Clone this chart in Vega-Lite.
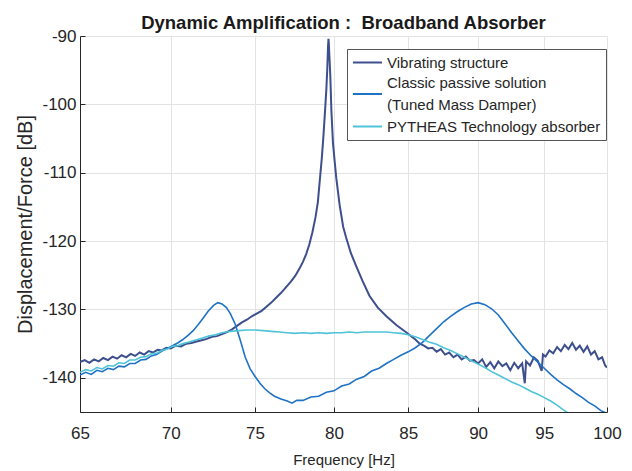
{
  "$schema": "https://vega.github.io/schema/vega-lite/v6.json",
  "autosize": "none",
  "width": 527,
  "height": 376,
  "padding": {"left": 80, "top": 36, "right": 25, "bottom": 59},
  "background": "white",
  "config": {"font": "Liberation Sans", "view": {"stroke": null}},
  "title": {"text": "Dynamic Amplification :\u00a0 Broadband Absorber", "fontSize": 18.5, "fontWeight": "bold", "color": "#1a1a1a", "frame": "group", "anchor": "middle", "offset": -5},
  "datasets": {
    "vib": [
      {"f":65.0,"v":-137.7},{"f":65.25,"v":-137.4},{"f":65.5,"v":-137.8},{"f":65.75,"v":-137.3},{"f":66.0,"v":-137.6},{"f":66.25,"v":-137.1},{"f":66.5,"v":-137.4},{"f":66.75,"v":-136.9},{"f":67.0,"v":-137.2},{"f":67.25,"v":-136.7},{"f":67.5,"v":-137.0},{"f":67.75,"v":-136.5},{"f":68.0,"v":-136.8},{"f":68.25,"v":-136.3},{"f":68.5,"v":-136.6},{"f":68.75,"v":-136.1},{"f":69.0,"v":-136.3},{"f":69.25,"v":-135.9},{"f":69.5,"v":-136.0},{"f":69.75,"v":-135.6},{"f":70.0,"v":-135.7},{"f":70.3,"v":-135.3},{"f":70.6,"v":-135.4},{"f":70.9,"v":-135.0},{"f":71.2,"v":-134.9},{"f":71.5,"v":-134.7},{"f":71.8,"v":-134.5},{"f":72.1,"v":-134.3},{"f":72.4,"v":-134.0},{"f":72.7,"v":-133.9},{"f":73.0,"v":-133.6},{"f":73.3,"v":-133.3},{"f":73.6,"v":-132.9},{"f":73.9,"v":-132.4},{"f":74.2,"v":-131.9},{"f":74.5,"v":-131.5},{"f":74.8,"v":-131.0},{"f":75.1,"v":-130.6},{"f":75.4,"v":-130.2},{"f":75.7,"v":-129.6},{"f":76.0,"v":-129.0},{"f":76.3,"v":-128.3},{"f":76.6,"v":-127.6},{"f":76.9,"v":-126.8},{"f":77.2,"v":-126.0},{"f":77.5,"v":-125.1},{"f":77.8,"v":-123.9},{"f":78.0,"v":-123.0},{"f":78.2,"v":-121.9},{"f":78.4,"v":-120.5},{"f":78.6,"v":-118.7},{"f":78.8,"v":-116.5},{"f":78.95,"v":-114.3},{"f":79.1,"v":-110.5},{"f":79.2,"v":-108.0},{"f":79.3,"v":-105.0},{"f":79.4,"v":-101.5},{"f":79.5,"v":-97.8},{"f":79.56,"v":-94.8},{"f":79.61,"v":-91.5},{"f":79.64,"v":-90.4},{"f":79.66,"v":-91.0},{"f":79.7,"v":-93.0},{"f":79.76,"v":-96.0},{"f":79.83,"v":-101.0},{"f":79.93,"v":-105.6},{"f":80.05,"v":-108.5},{"f":80.15,"v":-110.8},{"f":80.36,"v":-114.6},{"f":80.6,"v":-117.9},{"f":80.8,"v":-119.5},{"f":81.1,"v":-121.7},{"f":81.47,"v":-123.7},{"f":81.9,"v":-125.9},{"f":82.35,"v":-128.0},{"f":82.9,"v":-129.7},{"f":83.5,"v":-131.0},{"f":84.2,"v":-132.3},{"f":84.9,"v":-133.4},{"f":85.5,"v":-134.4},{"f":85.8,"v":-135.0},{"f":86.1,"v":-135.3},{"f":86.4,"v":-135.7},{"f":86.7,"v":-135.6},{"f":87.0,"v":-136.2},{"f":87.3,"v":-135.8},{"f":87.6,"v":-136.6},{"f":87.9,"v":-136.3},{"f":88.2,"v":-137.0},{"f":88.5,"v":-136.6},{"f":88.8,"v":-137.3},{"f":89.1,"v":-136.9},{"f":89.4,"v":-137.5},{"f":89.7,"v":-137.4},{"f":90.0,"v":-137.9},{"f":90.3,"v":-137.3},{"f":90.6,"v":-138.4},{"f":90.9,"v":-137.7},{"f":91.2,"v":-138.6},{"f":91.5,"v":-137.6},{"f":91.8,"v":-138.3},{"f":92.1,"v":-137.9},{"f":92.4,"v":-138.9},{"f":92.7,"v":-137.8},{"f":93.0,"v":-138.6},{"f":93.3,"v":-137.9},{"f":93.5,"v":-140.8},{"f":93.6,"v":-137.6},{"f":93.9,"v":-138.2},{"f":94.2,"v":-137.0},{"f":94.5,"v":-137.5},{"f":94.8,"v":-139.0},{"f":94.9,"v":-136.6},{"f":95.1,"v":-136.9},{"f":95.4,"v":-136.0},{"f":95.7,"v":-136.4},{"f":96.0,"v":-135.5},{"f":96.3,"v":-136.1},{"f":96.6,"v":-135.2},{"f":96.9,"v":-135.8},{"f":97.2,"v":-134.9},{"f":97.5,"v":-135.9},{"f":97.8,"v":-135.3},{"f":98.1,"v":-136.2},{"f":98.4,"v":-135.4},{"f":98.7,"v":-136.6},{"f":99.0,"v":-136.1},{"f":99.3,"v":-137.3},{"f":99.6,"v":-137.0},{"f":99.85,"v":-138.2},{"f":100.0,"v":-138.5}
    ],
    "tmd": [
      {"f":65.0,"v":-139.6},{"f":65.3,"v":-139.2},{"f":65.6,"v":-139.5},{"f":65.9,"v":-138.9},{"f":66.2,"v":-139.1},{"f":66.5,"v":-138.6},{"f":66.8,"v":-138.8},{"f":67.1,"v":-138.3},{"f":67.4,"v":-138.4},{"f":67.7,"v":-137.9},{"f":68.0,"v":-137.9},{"f":68.3,"v":-137.4},{"f":68.6,"v":-137.3},{"f":68.9,"v":-136.8},{"f":69.2,"v":-136.6},{"f":69.5,"v":-136.1},{"f":69.8,"v":-135.7},{"f":70.1,"v":-135.3},{"f":70.4,"v":-134.9},{"f":70.7,"v":-134.4},{"f":71.0,"v":-133.8},{"f":71.3,"v":-133.1},{"f":71.6,"v":-132.2},{"f":71.9,"v":-131.2},{"f":72.2,"v":-130.2},{"f":72.5,"v":-129.4},{"f":72.75,"v":-129.0},{"f":73.0,"v":-129.2},{"f":73.25,"v":-129.7},{"f":73.5,"v":-130.6},{"f":73.8,"v":-132.2},{"f":74.1,"v":-134.5},{"f":74.4,"v":-137.0},{"f":74.7,"v":-138.7},{"f":75.0,"v":-139.8},{"f":75.3,"v":-140.8},{"f":75.6,"v":-141.6},{"f":75.9,"v":-142.2},{"f":76.2,"v":-142.7},{"f":76.6,"v":-143.1},{"f":77.0,"v":-143.4},{"f":77.3,"v":-143.7},{"f":77.6,"v":-143.3},{"f":78.0,"v":-143.3},{"f":78.5,"v":-142.8},{"f":79.0,"v":-142.7},{"f":79.5,"v":-142.1},{"f":80.0,"v":-141.9},{"f":80.5,"v":-141.2},{"f":81.0,"v":-140.9},{"f":81.5,"v":-140.2},{"f":82.0,"v":-139.8},{"f":82.5,"v":-139.0},{"f":83.0,"v":-138.6},{"f":83.5,"v":-137.9},{"f":84.0,"v":-137.3},{"f":84.5,"v":-136.7},{"f":85.0,"v":-136.2},{"f":85.5,"v":-135.6},{"f":86.0,"v":-134.8},{"f":86.5,"v":-133.8},{"f":87.0,"v":-132.8},{"f":87.5,"v":-131.8},{"f":88.0,"v":-131.0},{"f":88.5,"v":-130.3},{"f":89.0,"v":-129.7},{"f":89.5,"v":-129.2},{"f":90.0,"v":-129.0},{"f":90.5,"v":-129.3},{"f":91.0,"v":-129.9},{"f":91.5,"v":-130.8},{"f":92.0,"v":-132.1},{"f":92.5,"v":-133.4},{"f":93.0,"v":-134.6},{"f":93.5,"v":-135.8},{"f":94.0,"v":-136.8},{"f":94.5,"v":-137.7},{"f":95.0,"v":-138.6},{"f":95.5,"v":-139.5},{"f":96.0,"v":-140.3},{"f":96.5,"v":-141.0},{"f":97.0,"v":-141.6},{"f":97.5,"v":-142.3},{"f":98.0,"v":-142.9},{"f":98.5,"v":-143.6},{"f":99.0,"v":-144.1},{"f":99.5,"v":-144.8},{"f":100.0,"v":-145.2}
    ],
    "pyt": [
      {"f":65.0,"v":-139.2},{"f":65.3,"v":-138.8},{"f":65.6,"v":-139.0},{"f":65.9,"v":-138.5},{"f":66.2,"v":-138.7},{"f":66.5,"v":-138.2},{"f":66.8,"v":-138.3},{"f":67.1,"v":-137.8},{"f":67.4,"v":-137.9},{"f":67.7,"v":-137.4},{"f":68.0,"v":-137.4},{"f":68.3,"v":-137.0},{"f":68.6,"v":-136.9},{"f":68.9,"v":-136.5},{"f":69.2,"v":-136.4},{"f":69.5,"v":-136.0},{"f":69.8,"v":-135.8},{"f":70.1,"v":-135.4},{"f":70.4,"v":-135.3},{"f":70.7,"v":-135.0},{"f":71.0,"v":-134.8},{"f":71.4,"v":-134.5},{"f":71.8,"v":-134.2},{"f":72.2,"v":-133.9},{"f":72.6,"v":-133.7},{"f":73.0,"v":-133.4},{"f":73.5,"v":-133.2},{"f":74.0,"v":-133.1},{"f":74.5,"v":-133.0},{"f":75.0,"v":-133.0},{"f":75.5,"v":-133.1},{"f":76.0,"v":-133.2},{"f":76.5,"v":-133.3},{"f":77.0,"v":-133.4},{"f":77.5,"v":-133.5},{"f":78.0,"v":-133.4},{"f":78.5,"v":-133.5},{"f":79.0,"v":-133.4},{"f":79.5,"v":-133.5},{"f":80.0,"v":-133.4},{"f":80.5,"v":-133.4},{"f":81.0,"v":-133.3},{"f":81.5,"v":-133.4},{"f":82.0,"v":-133.3},{"f":82.5,"v":-133.3},{"f":83.0,"v":-133.3},{"f":83.5,"v":-133.3},{"f":84.0,"v":-133.4},{"f":84.5,"v":-133.5},{"f":85.0,"v":-133.7},{"f":85.5,"v":-134.0},{"f":86.0,"v":-134.4},{"f":86.5,"v":-134.8},{"f":87.0,"v":-135.1},{"f":87.5,"v":-135.6},{"f":88.0,"v":-136.0},{"f":88.5,"v":-136.5},{"f":89.0,"v":-137.0},{"f":89.5,"v":-137.5},{"f":90.0,"v":-138.0},{"f":90.5,"v":-138.5},{"f":91.0,"v":-139.1},{"f":91.5,"v":-139.6},{"f":92.0,"v":-140.1},{"f":92.5,"v":-140.6},{"f":93.0,"v":-141.0},{"f":93.5,"v":-141.5},{"f":94.0,"v":-142.0},{"f":94.5,"v":-142.4},{"f":95.0,"v":-142.9},{"f":95.5,"v":-143.4},{"f":96.0,"v":-144.0},{"f":96.5,"v":-144.7},{"f":97.0,"v":-145.3}
    ]
  },
  "encoding": {
    "x": {"field": "f", "type": "quantitative", "scale": {"type": "log", "domain": [65, 100], "nice": false},
      "axis": {"values": [65,70,75,80,85,90,95,100], "format": "d", "title": "Frequency [Hz]", "titleFontSize": 15, "titleFontWeight": "normal", "titleColor": "#262626", "titleY": 47, "titleBaseline": "middle", "labelFontSize": 17, "labelColor": "#262626", "labelPadding": 18, "labelFlush": false, "domainColor": "#262626", "tickColor": "#262626", "tickSize": -5, "gridColor": "#e3e3e3"}},
    "y": {"field": "v", "type": "quantitative", "scale": {"domain": [-145, -90], "nice": false, "zero": false},
      "axis": {"values": [-140,-130,-120,-110,-100,-90], "labelExpr": "'' + datum.value", "title": "Displacement/Force [dB]", "titleFontSize": 20, "titleFontWeight": "normal", "titleColor": "#262626", "titleX": -55, "titleY": 188, "titleAlign": "center", "titleBaseline": "middle", "labelFontSize": 17, "labelColor": "#262626", "labelPadding": 9, "domainColor": "#262626", "tickColor": "#262626", "tickSize": -5, "gridColor": "#e3e3e3"}}
  },
  "layer": [
    {
      "data": {"name": "vib"},
      "mark": {"type": "line", "strokeWidth": 2, "clip": true},
      "encoding": {
        "color": {"datum": "Vibrating structure", "type": "nominal",
          "scale": {"domain": ["Vibrating structure", "Classic passive solution (Tuned Mass Damper)", "PYTHEAS Technology absorber"], "range": ["#3d4f8c", "#1f72c4", "#4fc3d8"]},
          "legend": {"orient": "none", "legendX": 267, "legendY": 13, "title": null, "symbolType": "M-2,0L2,0", "symbolSize": 210, "symbolStrokeWidth": 2, "symbolOffset": 7, "labelFontSize": 15, "labelColor": "#262626", "labelLimit": 400, "labelOffset": 11, "strokeColor": "#555555", "fillColor": "white", "padding": 5, "rowPadding": 4.5,
            "labelExpr": "datum.label == 'Classic passive solution (Tuned Mass Damper)' ? ['Classic passive solution', '(Tuned Mass Damper)'] : datum.label",
            "encode": {"labels": {"update": {"lineHeight": {"value": 22}, "dy": {"signal": "datum.index == 1 ? -11 : 0"}}}}}}
      }
    },
    {
      "data": {"name": "tmd"},
      "mark": {"type": "line", "strokeWidth": 1.6, "clip": true},
      "encoding": {"color": {"datum": "Classic passive solution (Tuned Mass Damper)", "type": "nominal"}}
    },
    {
      "data": {"name": "pyt"},
      "mark": {"type": "line", "strokeWidth": 1.6, "clip": true},
      "encoding": {"color": {"datum": "PYTHEAS Technology absorber", "type": "nominal"}}
    }
  ]
}
